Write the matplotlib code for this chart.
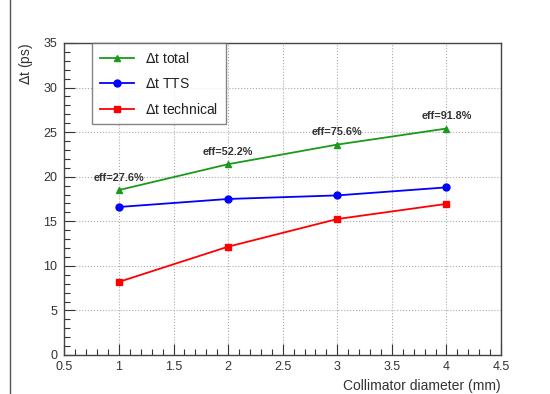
import matplotlib.pyplot as plt
from matplotlib.lines import Line2D
from matplotlib.ticker import MultipleLocator

plt.rcParams['font.family'] = ['Liberation Sans', 'DejaVu Sans']

diameter = [1, 2, 3, 4]
dt_total = [18.5, 21.4, 23.6, 25.4]
dt_tts = [16.6, 17.5, 17.9, 18.8]
dt_tech = [8.2, 12.15, 15.25, 16.95]
eff_labels = ['eff=27.6%', 'eff=52.2%', 'eff=75.6%', 'eff=91.8%']

fig = plt.figure(figsize=(5.5, 3.94), dpi=100)
ax = fig.add_axes([0.117, 0.099, 0.794, 0.792])

# thin vertical rule at the page edge
fig.add_artist(Line2D([0.018, 0.018], [0, 1], color='#555555', lw=1.0))

ax.plot(diameter, dt_total, color='#1a9a1a', marker='^', ms=4, lw=1.3, label=r'$\Delta$t total')
ax.plot(diameter, dt_tts, color='#0000ff', marker='o', ms=5, lw=1.3, label=r'$\Delta$t TTS')
ax.plot(diameter, dt_tech, color='#ff0000', marker='s', ms=5, lw=1.3, label=r'$\Delta$t technical')

for x, y, t in zip(diameter, dt_total, eff_labels):
    ax.text(x, y + 0.8, t, ha='center', va='bottom', fontsize=7.8, fontweight='bold', color='#333333')

ax.set_xlim(0.5, 4.5)
ax.set_ylim(0, 35)
ax.xaxis.set_major_locator(MultipleLocator(0.5))
ax.xaxis.set_minor_locator(MultipleLocator(0.1))
ax.yaxis.set_major_locator(MultipleLocator(5))
ax.yaxis.set_minor_locator(MultipleLocator(1))
ax.set_xticks([0.5, 1, 1.5, 2, 2.5, 3, 3.5, 4, 4.5])
ax.set_xticklabels(['0.5', '1', '1.5', '2', '2.5', '3', '3.5', '4', '4.5'])

ax.tick_params(which='both', direction='in', top=False, right=False, labelsize=9, colors='#333333')
ax.tick_params(axis='y', pad=5)
ax.tick_params(axis='x', pad=4)
ax.tick_params(which='major', length=8, width=0.8)
ax.tick_params(which='minor', length=4, width=0.8)
ax.grid(True, which='major', ls=':', color='#aaaaaa', lw=0.8)
for s in ax.spines.values():
    s.set_color('#444444')
    s.set_linewidth(1.0)

ax.set_xlabel('Collimator diameter (mm)', fontsize=10, color='#333333', loc='right', labelpad=5)
ax.set_ylabel(r'$\Delta$t (ps)', fontsize=10, color='#333333', loc='top', labelpad=6)

leg = ax.legend(loc='upper left', bbox_to_anchor=(0.063, 1.0), fontsize=10, frameon=True,
                fancybox=False, borderaxespad=0, handlelength=2.5, labelspacing=0.8,
                borderpad=0.55, edgecolor='#666666')
leg.get_frame().set_linewidth(1.0)
for t in leg.get_texts():
    t.set_color('#222222')

fig.savefig('out.png', dpi=100, facecolor='white')
